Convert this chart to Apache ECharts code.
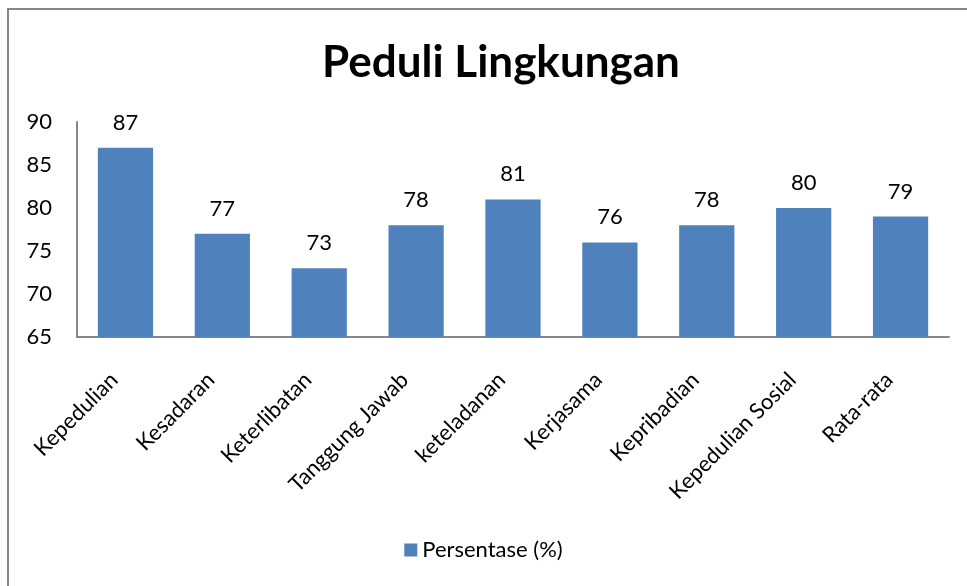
<!DOCTYPE html>
<html>
<head>
<meta charset="utf-8">
<script src="https://cdn.jsdelivr.net/npm/echarts@6/dist/echarts.min.js"></script>
<style>html,body{margin:0;padding:0;background:#fff}#c{width:967px;height:586px}</style>
</head>
<body>
<div id="c"></div>
<script>
const categories = ["Kepedulian","Kesadaran","Keterlibatan","Tanggung Jawab","keteladanan","Kerjasama","Kepribadian","Kepedulian Sosial","Rata-rata"];
const values = [87,77,73,78,81,76,78,80,79];
const seriesName = "Persentase (%)";
const titleText = "Peduli Lingkungan";
const yMin = 65, yMax = 90, yStep = 5;

const FONT = "Lato, 'Open Sans', sans-serif";
const chart = echarts.init(document.getElementById('c'), null, {renderer:'canvas'});
chart.setOption({
  animation:false,
  backgroundColor:'#fff',
  graphic:[{type:'rect',shape:{x:8,y:9,width:1200,height:1200},style:{fill:'none',stroke:'#868686',lineWidth:2},silent:true,z:-1}],
  title:{text:titleText,left:322,top:41,padding:0,textStyle:{fontFamily:FONT,fontSize:44,fontWeight:'bold',color:'#000'}},
  legend:{bottom:20,left:'center',itemWidth:13,itemHeight:13,itemGap:10,icon:'rect',textStyle:{fontFamily:FONT,fontSize:22,color:'#000'},data:[seriesName]},
  grid:{left:77,right:18,top:122,bottom:249,containLabel:false},
  xAxis:{type:'category',data:categories,
    axisLine:{lineStyle:{color:'#868686',width:2}},axisTick:{show:false},
    axisLabel:{rotate:45,interval:0,fontFamily:FONT,fontSize:22,color:'#000',margin:28,padding:[0,16,0,0]}},
  yAxis:{type:'value',min:yMin,max:yMax,interval:yStep,
    axisLine:{show:true,lineStyle:{color:'#868686',width:2}},axisTick:{show:false},splitLine:{show:false},
    axisLabel:{fontFamily:FONT,fontSize:22,color:'#000',margin:25}},
  series:[{name:seriesName,type:'bar',data:values,barWidth:'57%',
    itemStyle:{color:'#4F81BD'},
    label:{show:true,position:'top',distance:14,fontFamily:FONT,fontSize:22,color:'#000'}}]
});
</script>
</body>
</html>
